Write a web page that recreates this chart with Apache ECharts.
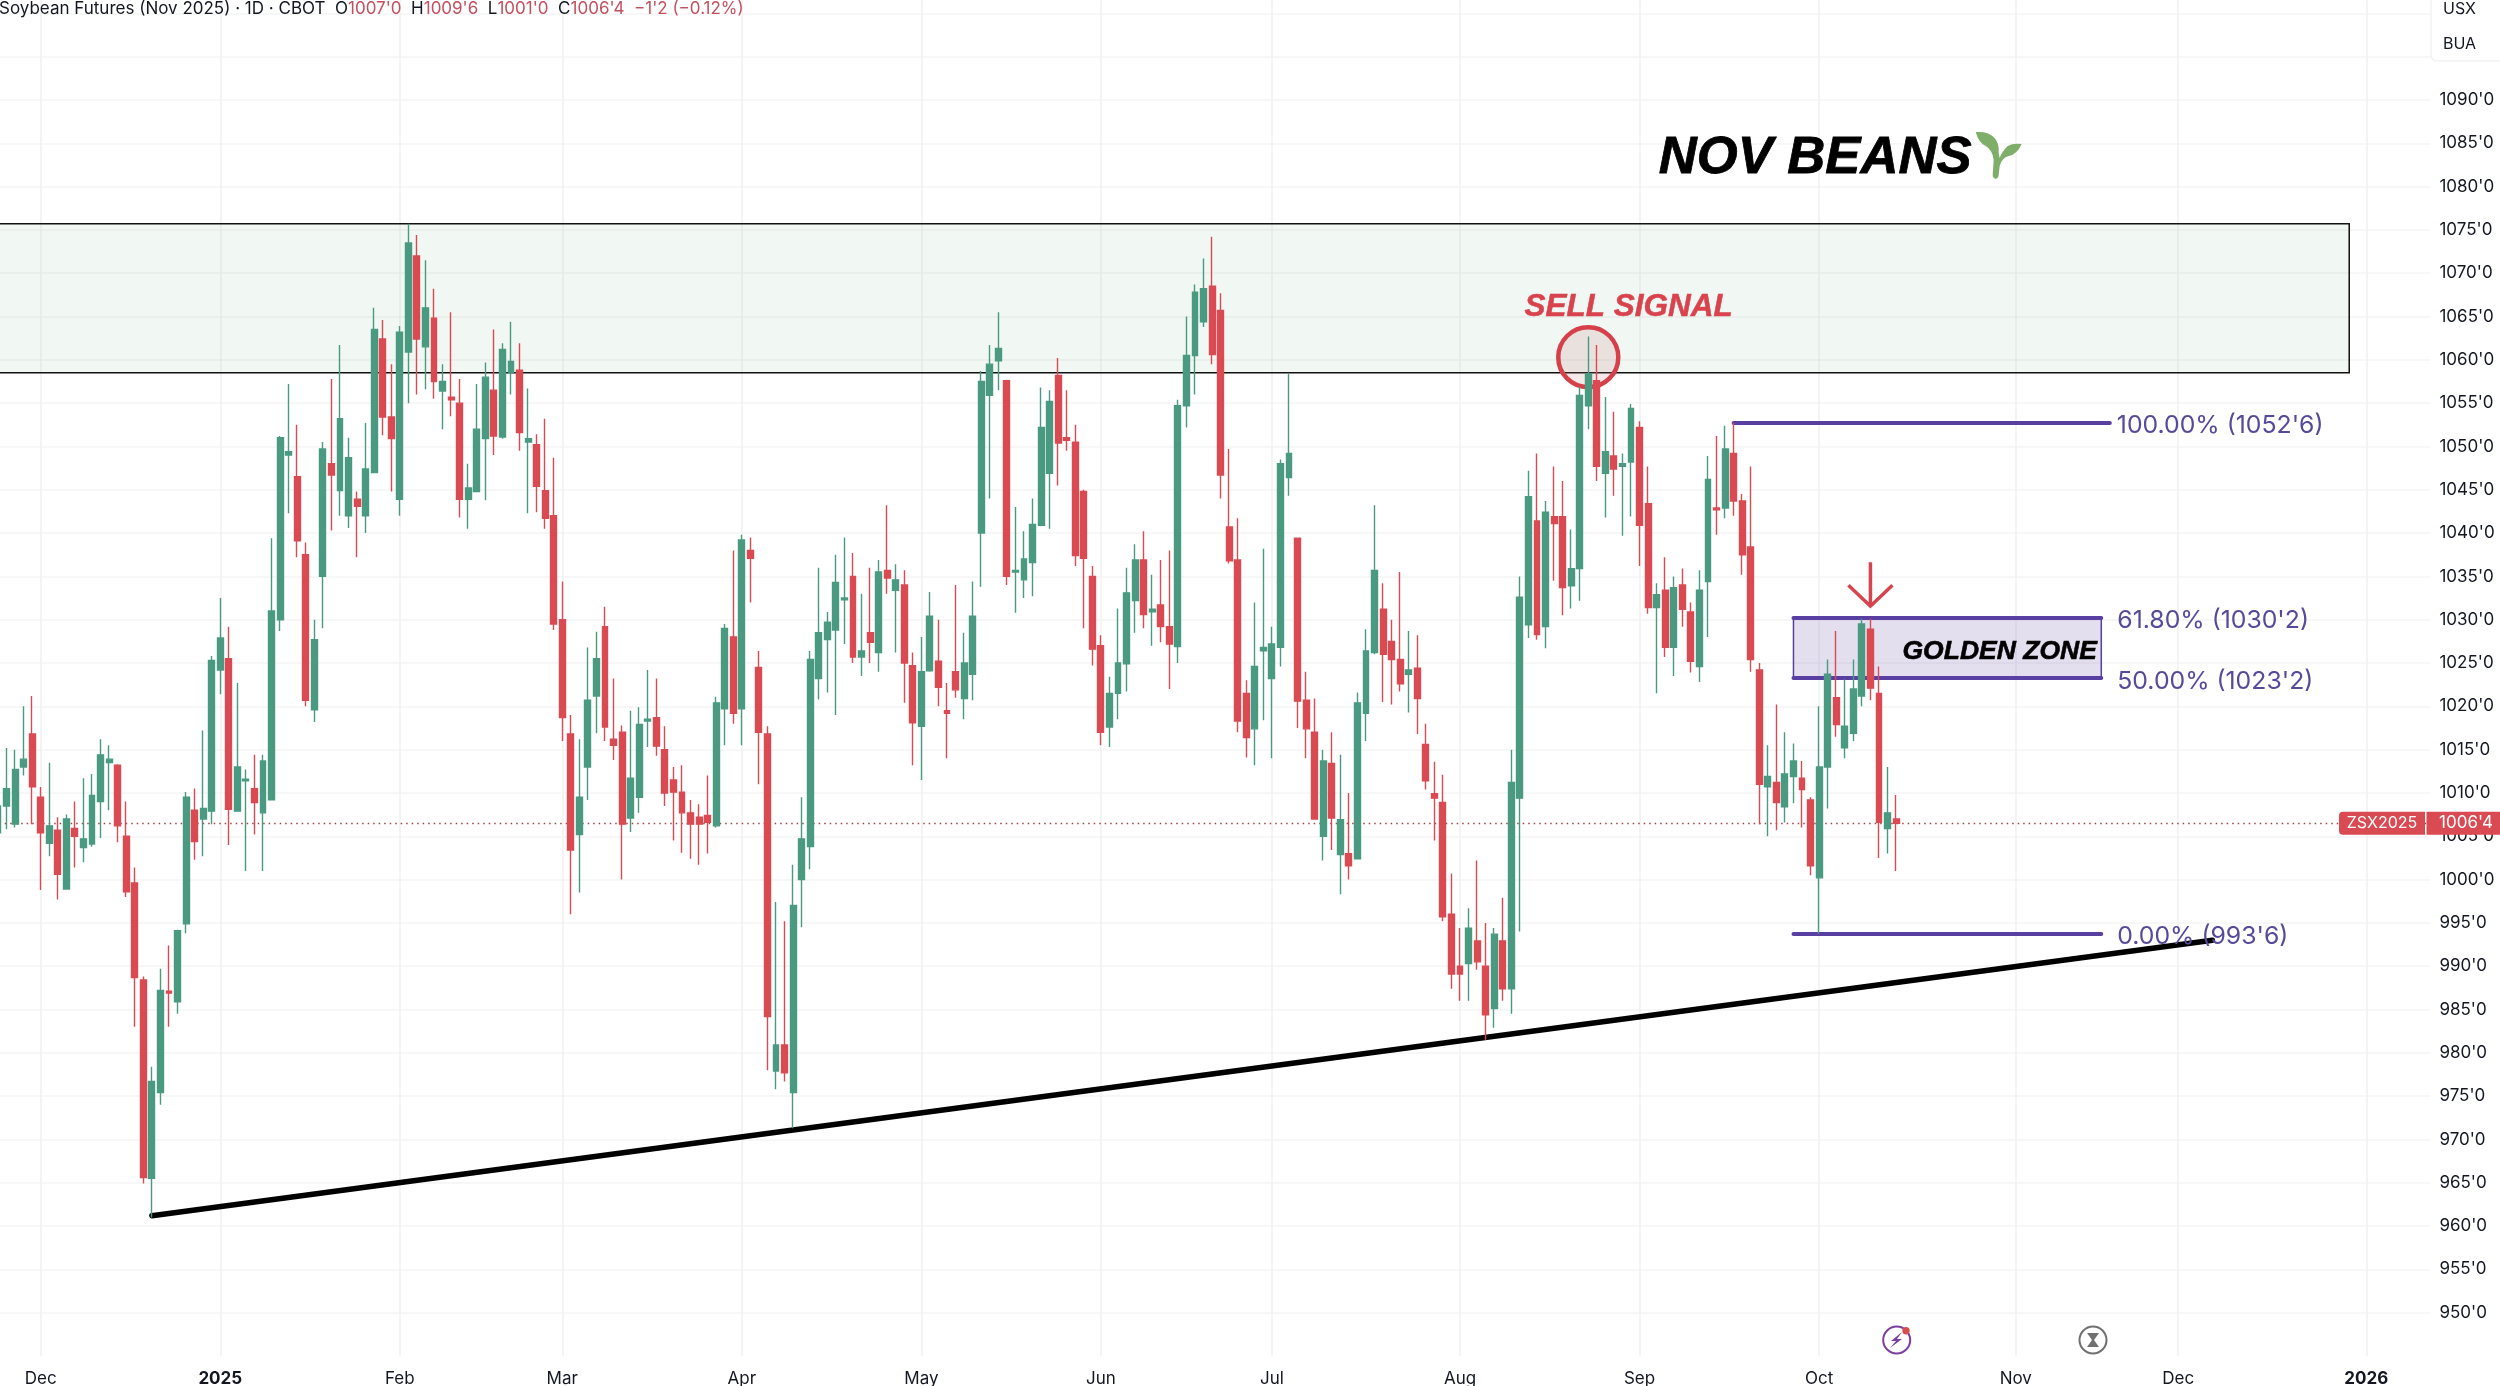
<!DOCTYPE html>
<html>
<head>
<meta charset="utf-8">
<style>html,body{margin:0;padding:0;background:#fff}#c{width:2500px;height:1386px}</style>
<script src="https://cdn.jsdelivr.net/npm/echarts@6/dist/echarts.min.js"></script>
</head>
<body>
<div id="c"></div>
<script>
// Daily candles, first visible session (late Nov 2024) to 14 Oct 2025. Values in cents/bushel.
const opens = [1005.4,1008.5,1006.4,1013,1016.8,1009.5,1004.2,1005.7,998.9,1005.9,
1003.7,1004.1,1009,1013.5,1013.2,1005,999.6,988.4,965.5,975.4,
987.1,985.9,994.9,1008,1007,1007.9,1024.2,1025.5,1007.9,1011.4,
1010.5,1007.7,1009.2,1030,1049,1046.5,1037.5,1019.6,1035,1048,
1044.9,1042,1043.9,1042,1047,1062.4,1053.4,1043.9,1060.9,1072,
1061.5,1064.8,1056.4,1055.7,1055,1043.9,1044.8,1050.9,1056.5,1051.1,
1058.5,1058.8,1050.5,1050.2,1044.9,1042,1030,1016.8,1005.2,1013,
1021.2,1029.2,1016.2,1017,1007.1,1009.5,1018.3,1018.7,1015,1011.5,
1010.1,1007.7,1007.2,1007.4,1006.2,1019.7,1028,1019.7,1038,1024.5,
1016.8,977.9,980.9,975.4,1000,1003.8,1023.2,1027.7,1028.8,1032.3,
1035,1025.7,1028.5,1026.2,1035.7,1033.4,1034,1024.7,1017.7,1024.1,
1025.2,1019.5,1024,1020.9,1023.7,1040,1055.9,1059.9,1057.6,1035.5,
1034.6,1036.6,1040.9,1046.9,1058.2,1051,1050.5,1044.8,1035,1027,
1017.6,1021.5,1024.9,1032.2,1036.9,1030.9,1031.7,1029.2,1026.9,1054.7,
1060.5,1064.4,1068.5,1065.7,1040.7,1036.9,1021.5,1017.4,1026.4,1023.2,
1026.8,1046.4,1039.4,1020.7,1017,1005,1013.4,1002.9,1003,1002.4,
1019.2,1026.2,1031.2,1027.5,1025.4,1023.7,1024.4,1015.6,1009.9,1008.9,
996,990,990.3,992.9,990,985.1,992.9,987.4,1009.4,1029.4,
1041.4,1029.2,1041.9,1041.9,1033.9,1035.9,1054.7,1057.6,1046.9,1048.9,
1047.7,1048.2,1052.2,1043.4,1031.4,1033.4,1026.8,1034,1030.9,1024.6,
1034.4,1042.9,1042.9,1049.2,1043.7,1038.4,1024.2,1010.7,1011.2,1008.4,
1011.9,1011.7,1009.2,1000.2,1013,1021,1015.2,1016.9,1021.2,1028.9,
1021.5,1005.9,1007];
const closes = [1008.5,1010.5,1012.7,1013.9,1010.7,1005.4,1006.2,1000.6,1007,1005,
1004.7,1009.7,1014.4,1013.9,1006.2,998.6,988.7,965.6,976.7,987.2,
986.9,994.1,1009.5,1004.4,1008.2,1025.3,1027.9,1008.1,1013,1011.6,
1008.9,1013.7,1031,1051,1049.4,1039.1,1020.7,1027.7,1049.7,1046.7,
1053.2,1048.7,1043.1,1047.4,1063.5,1053.4,1050.9,1063.2,1073.5,1062.4,
1066,1057.5,1057.5,1055.4,1043.9,1045.2,1052,1058,1051.2,1061.2,
1059.8,1051.6,1050.9,1045.4,1041.7,1029.5,1018.7,1003.4,1009.5,1020.7,
1025.5,1017.6,1015.5,1006.4,1011.7,1017.9,1018.5,1015.4,1010,1010.1,
1007.7,1006.4,1006.4,1006.6,1020.4,1029,1019.2,1039.2,1037.1,1017,
984.2,980.9,977.7,997,1004.7,1025.4,1028.5,1029.7,1034.3,1032.5,
1025.7,1026.4,1027.4,1035.5,1034.8,1034.6,1025,1018.1,1024,1030.4,
1022.2,1019.2,1021.9,1025,1030.4,1057.5,1059.5,1061.3,1035,1035.7,
1037,1041,1052.2,1055.2,1050.4,1050.7,1037.4,1037.1,1026.6,1017,
1021.5,1025,1033.1,1036.9,1030.6,1031.2,1029.2,1027.2,1054.7,1060.5,
1067.8,1068.2,1060.6,1046.7,1036.8,1018.3,1016.4,1024.6,1026.8,1027.2,
1048,1049.2,1020.6,1017.4,1007,1013.7,1007.1,1006.9,1001.6,1020.4,
1026.4,1035.7,1026,1025.4,1022.6,1024.2,1020.9,1011.4,1009.4,995.7,
989.1,989.1,994.4,990.5,984.4,993.7,987.4,1011.2,1032.6,1044.2,
1028.3,1042.4,1041.1,1033.7,1035.9,1055.9,1058.4,1047.7,1049.4,1047.4,
1048,1054.4,1040.9,1031.4,1032.9,1026.8,1033.7,1031.2,1025.2,1033.4,
1046.2,1042.7,1049.7,1043.7,1037.5,1025.4,1011,1011.9,1008.9,1012.2,
1013.7,1010.4,1001.6,1013,1023.7,1017.9,1017.7,1022,1029.5,1022.1,
1006.6,1007.7,1006.5];
const highs = [1009,1015.2,1015,1020,1021.2,1010.7,1013.5,1007.2,1007.5,1009,
1011.7,1012.2,1016.2,1015.5,1013.3,1009,1001.4,988.8,978.4,989.7,
992.4,994.2,1010.1,1010.5,1017.2,1025.8,1032.5,1029.2,1022.7,1012.7,
1014.4,1014.4,1039.4,1051.2,1057.2,1052.5,1038.9,1030,1050.5,1057.8,
1061.7,1051,1044.8,1052.7,1066,1064.6,1059.5,1063.9,1075.7,1074.4,
1071.5,1068.2,1059.5,1065.5,1057.8,1048,1057.2,1059.7,1063.5,1061.9,
1064.4,1061.9,1056.7,1051.4,1053.2,1048.7,1034.4,1019,1016.2,1026.8,
1028.6,1031.5,1023.2,1017.8,1019.5,1019.9,1024.2,1023.2,1017.7,1013,
1013.2,1009.2,1008.7,1012,1021.1,1029.5,1038,1039.8,1039.5,1026.4,
1017.7,997.4,995.2,1001.7,1009.5,1026.4,1036,1030.9,1037.5,1039.5,
1037.7,1033,1036,1036.9,1043.2,1036.4,1035.7,1026.2,1028,1033.2,
1030,1022.7,1034,1028.5,1034.4,1058.7,1061.7,1065.5,1057.7,1043,
1040.2,1044,1056.8,1056.5,1060.2,1056.5,1052.5,1045,1036.2,1028.2,
1023.4,1031.3,1036,1038.7,1040.2,1035.2,1036.9,1038,1055.4,1065,
1068.7,1071.7,1074.2,1067.7,1049.7,1041.7,1023,1032,1038.2,1029.2,
1048.5,1058.4,1039.5,1024,1020.9,1015,1017,1014.4,1010,1021.6,
1028.9,1043.2,1034.2,1030,1035.5,1028.7,1028.2,1018,1013.6,1012.1,
1000.7,994.4,996.7,1002.2,995,994.4,997.9,1015,1035,1047.2,
1049.2,1043.7,1047.7,1046,1040.4,1056.9,1062.7,1061.7,1055.7,1054,
1049.2,1054.9,1052.9,1047.7,1034.2,1037.2,1035,1035.9,1032,1035.7,
1048.9,1051.2,1052.4,1052.75,1044.5,1047.7,1025,1015.5,1020.2,1017,
1015.7,1013.7,1009.5,1020,1025.4,1028.7,1023.1,1025.4,1030.1,1030.1,
1024.6,1013,1009.75];
const lows = [1005,1005.8,1006,1012,1006.4,998.8,1002.7,997.7,998.9,1001.4,
1002,1003.8,1004.8,1008,1004.3,998,983,964.9,961,974,
983,984.5,993.8,1002.3,1002.7,1006.4,1021.4,1004,1007.9,1001,
1005.2,1001,1009.2,1028.7,1042.3,1037.2,1020,1018.2,1029,1040.3,
1042,1040.6,1037.2,1040,1047,1051.3,1044.8,1042,1055,1056,
1056.6,1055.5,1052,1053.5,1041.8,1040.5,1044.7,1043.8,1049,1050.9,
1056,1049.5,1042.3,1042.4,1040.5,1028.8,1016,996,998.5,1009.2,
1016.9,1016,1013.8,1000,1005.5,1007.7,1015.3,1014.3,1008.5,1004.5,
1003.1,1002.4,1001.7,1003,1006,1015.5,1018,1015.5,1032,1011,
978,975.8,976.7,971.3,994.5,1001.2,1020.8,1021.6,1019,1027.2,
1025,1023.5,1025,1024,1033,1026.2,1020.4,1013.2,1011.5,1024,
1020,1014,1021,1018.5,1020.7,1033.8,1044,1056.5,1034,1030.8,
1032.5,1032.7,1040.8,1040.5,1045.5,1049.5,1036.2,1029,1024.7,1015.5,
1015.3,1018.5,1021.7,1028.5,1029,1027,1027.4,1022,1025,1052.2,
1056,1063.8,1059.5,1044,1036.5,1017,1014.1,1013.2,1018.4,1014,
1024.6,1044.3,1017.5,1014,1007,1002.2,1003.4,998.3,1000,1002.4,
1016,1026,1020.5,1020.2,1021.7,1019.3,1016.8,1010.4,1004.5,995.2,
987.4,986,986,989.6,981.5,982.9,986,984.5,994,1027.9,
1027.7,1026.7,1034.5,1030.5,1031.3,1032.2,1052,1046,1041.8,1044.3,
1039.7,1041.9,1036.2,1030.7,1021.5,1025.7,1023.5,1029.2,1023.9,1022.8,
1028,1039.8,1041.7,1042,1035.2,1024,1006.4,1005,1005.7,1006.6,
1008.8,1006,1000.5,993.75,1008.2,1016.5,1014,1016,1020,1020.7,
1002.5,1003,1001];

// Time axis: sessions per slot, month tick labels and the slot each one sits on
const slotCount = 285;
const monthLabels = ['Dec','2025','Feb','Mar','Apr','May','Jun','Jul','Aug','Sep','Oct','Nov','Dec','2026'];
const monthSlots  = [5,26,47,66,87,108,129,149,171,192,213,236,255,277];

// Price axis
const priceMin = 945, priceMax = 1101.54, priceStep = 5;

// Drawings
const zoneTop = 1075.7, zoneBottom = 1058.5, zoneSlots = [0, 275];
const fibLevels = [1052.75, 1030.25, 1023.25, 993.75];
const fibLabels = ["100.00% (1052'6)", "61.80% (1030'2)", "50.00% (1023'2)", "0.00% (993'6)"];
const fibStart = [203, 210, 210, 210];
const fibEnd = [247, 246, 246, 246];
const trendStart = [18, 961.2], trendEnd = [259, 993];
const lastClose = 1006.5;

const categories = Array.from({length: slotCount}, (_, i) => String(i));
const candleData = categories.map((_, i) =>
  i < opens.length ? [opens[i], closes[i], lows[i], highs[i]] : '-');

const UI = 'Inter, "Noto Sans", sans-serif';
const PURPLE = '#5a3fa3', FIBTEXT = '#574a9a', RED = '#da4a52', GREEN = '#4a9a82';
const isTick = i => monthSlots.indexOf(i) >= 0;

const fibLineData = fibLevels.map((v, i) => [
  {coord: [fibStart[i], v], label: {show: true, position: 'end', distance: i === 0 ? 7 : 16, offset: [0, 3], formatter: fibLabels[i],
    color: FIBTEXT, fontFamily: UI, fontSize: 24.8}},
  {coord: [fibEnd[i], v]}
]);

const chart = echarts.init(document.getElementById('c'), null, {width: 2500, height: 1386});

function note(slot, value, text, color, size, dx, stroke) {
  return {
    coord: [slot, value], symbol: 'circle', symbolSize: 1, itemStyle: {color: 'rgba(0,0,0,0)'},
    label: {show: true, position: 'inside', formatter: text, color: color, fontFamily: '"Liberation Sans"',
      fontWeight: 'bold', fontStyle: 'italic', fontSize: size, offset: [dx || 0, 0],
      textBorderColor: color, textBorderWidth: stroke || 0}
  };
}

chart.setOption({
  animation: false,
  backgroundColor: '#fff',
  title: {
    left: -1, top: 0, padding: 0,
    text: "{k|Soybean Futures (Nov 2025) · 1D · CBOT  O}{r|1007'0}{k|  H}{r|1009'6}{k|  L}{r|1001'0}{k|  C}{r|1006'4  −1'2 (−0.12%)}",
    textStyle: {fontWeight: 'normal', rich: {
      k: {color: '#131722', fontFamily: UI, fontSize: 17, fontWeight: 'normal'},
      r: {color: '#c2505f', fontFamily: UI, fontSize: 17, fontWeight: 'normal'}
    }}
  },
  grid: {left: -6.3, top: 0, width: 2436.75, height: 1356, containLabel: false, outerBoundsMode: 'none'},
  xAxis: {
    type: 'category', data: categories, boundaryGap: true,
    axisLine: {show: false}, axisTick: {show: false},
    axisLabel: {
      interval: (i) => isTick(i), margin: 14,
      formatter: (v) => {
        const k = monthSlots.indexOf(+v); if (k < 0) return '';
        const t = monthLabels[k]; return /^\d/.test(t) ? '{b|' + t + '}' : t;
      },
      color: '#131722', fontFamily: UI, fontSize: 17,
      rich: {b: {color: '#131722', fontFamily: UI, fontSize: 17, fontWeight: 'bold'}}
    },
    splitLine: {show: true, interval: (i) => isTick(i), alignWithLabel: true, lineStyle: {color: '#f1f1f1', width: 1.5}}
  },
  yAxis: {
    type: 'value', min: priceMin, max: priceMax, interval: priceStep, position: 'right',
    axisLine: {show: false}, axisTick: {show: false},
    axisLabel: {
      margin: 9, color: '#131722', fontFamily: UI, fontSize: 17, align: 'left', padding: [3, 0, 0, 0],
      formatter: (v) => (v > 1090 || v < 950) ? '' : v + "'0"
    },
    splitLine: {show: true, showMinLine: false, showMaxLine: false, lineStyle: {color: '#f4f4f4', width: 1.5}}
  },
  series: [
    { // supply zone, behind everything
      name: 'zone', type: 'line', data: [], z: 1, silent: true, symbol: 'none',
      markArea: {silent: true, itemStyle: {color: 'rgba(100,170,110,0.09)', borderColor: '#111', borderWidth: 1.5},
        data: [[{coord: [zoneSlots[0], zoneTop]}, {coord: [zoneSlots[1], zoneBottom]}]]}
    },
    { // golden zone fill + fib lines
      name: 'fib', type: 'line', data: [], z: 2, silent: true, symbol: 'none',
      markArea: {silent: true, itemStyle: {color: 'rgba(90,63,163,0.17)', borderColor: PURPLE, borderWidth: 1.5},
        data: [[{coord: [fibStart[1], fibLevels[1]]}, {coord: [fibEnd[1], fibLevels[2]]}]]},
      markLine: {silent: true, symbol: 'none', animation: false,
        lineStyle: {color: PURPLE, width: 4, type: 'solid', cap: 'round'},
        data: fibLineData}
    },
    {
      name: 'ZSX2025', type: 'candlestick', data: candleData, z: 5, barWidth: 6.4,
      itemStyle: {color: GREEN, color0: RED, borderColor: GREEN, borderColor0: RED, borderWidth: 1.4},
      markLine: {silent: true, symbol: 'none', animation: false, label: {show: false},
        lineStyle: {color: '#a04048', width: 1.4, type: [1.5, 4]},
        data: [{yAxis: lastClose}]}
    },
    {
      name: 'drawings', type: 'line', data: [], z: 8, silent: true, symbol: 'none',
      markLine: {silent: true, symbol: 'none', animation: false, label: {show: false},
        lineStyle: {color: '#000', width: 5.5, type: 'solid', cap: 'round'},
        data: [[{coord: trendStart}, {coord: trendEnd}]]},
      markPoint: {silent: true, animation: false, data: [
        {coord: [186, 1060.3], symbol: 'circle', symbolSize: 60, label: {show: false},
          itemStyle: {color: 'rgba(190,120,120,0.17)', borderColor: '#d6404b', borderWidth: 4.5}},
        {coord: [219, 1034.1], symbol: 'path://M22 0 L22 44 M0 23 L22 44 L44 23', symbolSize: [44, 44], label: {show: false},
          itemStyle: {color: 'rgba(0,0,0,0)', borderColor: '#d6444d', borderWidth: 3.5}},
        {coord: [234, 1083.6], symbol: 'path://M20 47 Q17 46 17 43 L18 28 Q17 18 10 14 Q3 11 0 0 Q12 -1 18 5 Q24 11 23 21 L24 26 Q26 20 32 14 Q37 11 46 12 Q41 23 33 24 Q26 26 24 34 L23 43 Q23 46 20 47 Z',
          symbolSize: [46, 47], label: {show: false}, itemStyle: {color: '#7fae6b'}},
        note(191, 1066.1, 'SELL SIGNAL', '#d9434e', 31.5, -2.5, 0.5),
        note(234, 1026.3, 'GOLDEN ZONE', '#000', 26.5, 1, 0.6),
        note(213, 1083.3, 'NOV BEANS', '#000', 52.6, -4, 0.8)
      ]}
    }
  ]
});

// Pieces that sit outside the plot: last-price tag, currency box, footer icons
const tagY = chart.convertToPixel({yAxisIndex: 0}, lastClose);
chart.setOption({graphic: {elements: [
  {type: 'rect', z: 100, shape: {x: 2339, y: tagY - 11.5, width: 86, height: 23, r: [4, 0, 0, 4]}, style: {fill: '#da4a52'}},
  {type: 'rect', z: 100, shape: {x: 2426.5, y: tagY - 11.5, width: 73.5, height: 23}, style: {fill: '#da4a52'}},
  {type: 'text', z: 101, x: 2382, y: tagY, style: {text: 'ZSX2025', fill: '#fff', font: '16px ' + UI, align: 'center', verticalAlign: 'middle'}},
  {type: 'text', z: 101, x: 2466, y: tagY, style: {text: "1006'4", fill: '#fff', font: '17px ' + UI, align: 'center', verticalAlign: 'middle'}},
  {type: 'rect', z: 99, shape: {x: 2431, y: -10, width: 80, height: 71, r: 6}, style: {fill: '#fff', stroke: '#f2f2f2', lineWidth: 1.5}},
  {type: 'text', z: 101, x: 2443, y: 9, style: {text: 'USX', fill: '#131722', font: '16px ' + UI, verticalAlign: 'middle'}},
  {type: 'text', z: 101, x: 2443, y: 44, style: {text: 'BUA', fill: '#131722', font: '16px ' + UI, verticalAlign: 'middle'}},
  // bolt icon
  {type: 'circle', z: 20, shape: {cx: 1896.7, cy: 1340, r: 13.5}, style: {fill: '#fff', stroke: '#7b3fa0', lineWidth: 2}},
  {type: 'polygon', z: 21, shape: {points: [[1902, 1332], [1891, 1341], [1896, 1341], [1890, 1348], [1902, 1339], [1897, 1339]]}, style: {fill: '#7b3fa0'}},
  {type: 'circle', z: 22, shape: {cx: 1906, cy: 1330.7, r: 3.7}, style: {fill: '#d6504f'}},
  // hourglass icon
  {type: 'circle', z: 20, shape: {cx: 2093, cy: 1340, r: 13.5}, style: {fill: '#fff', stroke: '#707070', lineWidth: 2}},
  {type: 'polygon', z: 21, shape: {points: [[2087, 1333], [2099, 1333], [2094, 1340], [2099, 1347], [2087, 1347], [2092, 1340]]}, style: {fill: '#707070'}}
]}});
</script>
</body>
</html>
